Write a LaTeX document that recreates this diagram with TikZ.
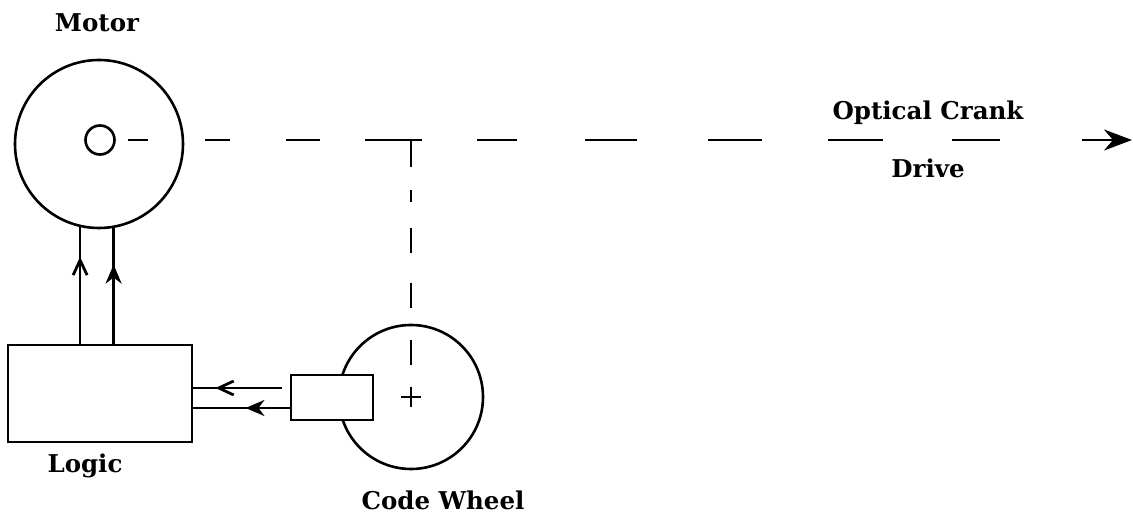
\documentclass[tikz,border=0pt]{standalone}
\usepackage{fontspec}
\setmainfont{DejaVu Serif}
\usetikzlibrary{arrows.meta,decorations.markings,calc}
\begin{document}
\begin{tikzpicture}[x=1pt,y=-1pt,
  every node/.style={inner sep=0pt,outer sep=0pt},
  part/.style={draw,line width=2.6pt,fill=white},
  wire/.style={line width=2.6pt},
  lbl/.style={font=\fontsize{24.5}{29}\selectfont\bfseries},
  barbmark/.style={postaction={decorate},decoration={markings,
    mark=at position #1 with {\arrow{Straight Barb[length=15pt,width=14pt,line width=2.8pt]}}}},
  stealthmark/.style={postaction={decorate},decoration={markings,
    mark=at position #1 with {\arrow{Stealth[length=19pt,width=16pt,inset=6pt]}}}},
  shaftline/.style={line width=2.8pt},
]
\useasboundingbox (0,0) rectangle (1133,518);

% parts
\node[part,circle,minimum size=168pt] (motor) at (99,144) {};
\node[part,circle,minimum size=29pt] (shaft) at (100,140) {};
\node[part,circle,minimum size=144pt] (wheel) at (411,397) {};
\node[part,rectangle,minimum width=82pt,minimum height=45pt] (sensor) at (332,397.5) {};
\node[part,rectangle,minimum width=184pt,minimum height=97pt] (logic) at (100,393.5) {};

% labels
\node[lbl] (motorlbl) at (97,23) {Motor};
\node[lbl] (logiclbl) at (85,466) {Logic};
\node[lbl] (wheellbl) at (443,500) {Code Wheel};
\node[lbl] (crank) at (928,113) {Optical Crank};
\node[lbl] (drive) at (928,168) {Drive};

% hub cross
\draw[wire,line width=2pt] ($(wheel.center)+(-10,0)$) -- ($(wheel.center)+(10,0)$)
                           ($(wheel.center)+(0,-10)$) -- ($(wheel.center)+(0,10)$);

% motor drive leads from the logic
\coordinate (m1) at (motor.-103.77);
\coordinate (m2) at (motor.-80.41);
\coordinate (l1) at (m1 |- logic.north);
\coordinate (l2) at (m2 |- logic.north);
\draw[wire,barbmark=0.74] (l1) -- (m1);
\draw[wire,stealthmark=0.68] (l2) -- (m2);

% pick-off signals back to the logic
\coordinate (s1) at ($(sensor.west)+(-9,-9.5)$);
\coordinate (s2) at ($(sensor.west)+(0,10.5)$);
\draw[wire,barbmark=0.74] (s1) -- (s1 -| logic.east);
\draw[wire,stealthmark=0.46] (s2) -- (s2 -| logic.east);

% mechanical shaft to the crank drive
\coordinate (driveend) at (1132,140);
\draw[shaftline,-{Stealth[length=28pt,width=21pt,inset=9pt]},
  dash pattern=on 0pt off 13.5pt on 20pt off 57pt on 25pt off 56pt on 34pt off 45pt
  on 57pt off 55pt on 40pt off 68pt on 52pt off 71pt on 54pt off 66pt on 55pt off 69pt
  on 48pt off 82pt on 80pt off 0pt]
  (shaft.east) -- (driveend);

% branch down to the code wheel
\coordinate (tee) at (shaft -| wheel);
\draw[shaftline,dash pattern=on 27pt off 23pt on 12pt off 26pt on 25pt off 30pt
  on 25pt off 32pt on 25pt off 60pt]
  (tee) -- (wheel.center);
\end{tikzpicture}
\end{document}
